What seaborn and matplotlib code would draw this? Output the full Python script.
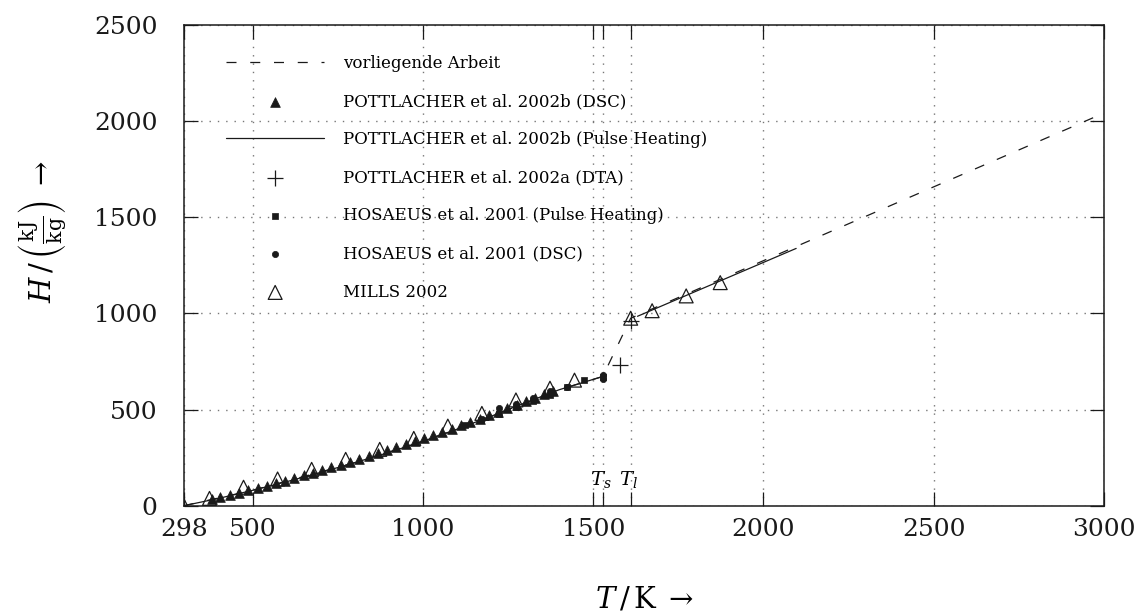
import matplotlib
matplotlib.use("Agg")
import matplotlib.pyplot as plt
import seaborn as sns
import numpy as np
import pandas as pd

# ---------------- data ----------------
T_work = [298, 500, 800, 1000, 1200, 1400, 1528, 1610, 3000]
H_work = [0, 80, 224, 335, 465, 603, 672, 975, 2042]

T_dsc = [380, 405, 432, 460, 487, 514, 541, 568, 595, 622, 650, 677, 704, 731,
         758, 786, 813, 840, 867, 894, 921, 949, 976, 1003, 1030, 1057, 1084,
         1112, 1139, 1166, 1193, 1220, 1247, 1275, 1302, 1329, 1356, 1383]
H_dsc = [34, 44, 56, 68, 81, 93, 105, 118, 131, 144, 158, 172, 185, 199,
         214, 228, 243, 258, 273, 288, 304, 320, 336, 352, 368, 384, 401,
         418, 435, 453, 470, 488, 506, 524, 543, 561, 580, 599]

T_ph_solid = [298, 400, 500, 600, 700, 800, 900, 1000, 1100, 1200, 1300, 1400, 1528]
H_ph_solid = [0, 38, 80, 125, 173, 224, 277, 335, 398, 465, 535, 603, 672]
T_ph_liquid = [1630, 2096]
H_ph_liquid = [985, 1338]

T_dta = [1579, 1610]
H_dta = [732, 958]

T_hos_ph = [1122, 1171, 1222, 1272, 1323, 1372, 1424, 1473, 1528]
H_hos_ph = [420, 446, 478, 512, 546, 577, 619, 654, 671]

T_hos_dsc = [1173, 1223, 1273, 1323, 1373, 1423, 1528, 1528]
H_hos_dsc = [452, 506, 530, 560, 595, 619, 660, 682]

T_mills = [298, 373, 473, 573, 673, 773, 873, 973, 1073, 1173, 1273, 1373,
           1445, 1610, 1673, 1773, 1873]
H_mills = [0, 38, 96, 139, 189, 241, 293, 350, 414, 480, 550, 611,
           653, 975, 1014, 1091, 1160]

T_s, T_l = 1528, 1610
x_ticks = [298, 500, 1000, 1500, T_s, T_l, 2000, 2500, 3000]
x_tick_labels = ["298", "500", "1000", "1500", "", "", "2000", "2500", "3000"]
y_ticks = [0, 500, 1000, 1500, 2000, 2500]

labels = ["vorliegende Arbeit",
          "POTTLACHER et al. 2002b (DSC)",
          "POTTLACHER et al. 2002b (Pulse Heating)",
          "POTTLACHER et al. 2002a (DTA)",
          "HOSAEUS et al. 2001 (Pulse Heating)",
          "HOSAEUS et al. 2001 (DSC)",
          "MILLS 2002"]

# ---------------- style ----------------
sns.set_theme(style="ticks")
plt.rcParams["font.family"] = ["DejaVu Serif"]
plt.rcParams["mathtext.fontset"] = "dejavuserif"
plt.rcParams["text.color"] = "black"
plt.rcParams["axes.labelcolor"] = "black"
plt.rcParams["xtick.color"] = "black"
plt.rcParams["ytick.color"] = "black"

fig = plt.figure(figsize=(11.44, 6.14), dpi=100)
ax = fig.add_axes([0.1608, 0.1764, 0.8042, 0.7829])

lw = 0.9
sns.lineplot(x=T_work, y=H_work, ax=ax, sort=False, estimator=None, color="k",
             lw=lw, linestyle=(0, (8, 11)), label=labels[0], zorder=2)
sns.scatterplot(x=T_dsc, y=H_dsc, ax=ax, marker="^", s=7**2, color="k",
                edgecolor="k", linewidth=0.5, label=labels[1], zorder=3)
sns.lineplot(x=T_ph_solid, y=H_ph_solid, ax=ax, sort=False, estimator=None,
             color="k", lw=lw, label=labels[2], zorder=2)
sns.lineplot(x=T_ph_liquid, y=H_ph_liquid, ax=ax, sort=False, estimator=None,
             color="k", lw=lw, zorder=2)
sns.scatterplot(x=T_dta, y=H_dta, ax=ax, marker="+", s=11**2, color="k",
                linewidth=0.9, label=labels[3], zorder=3)
sns.scatterplot(x=T_hos_ph, y=H_hos_ph, ax=ax, marker="s", s=5**2, color="k",
                edgecolor="k", linewidth=0.5, label=labels[4], zorder=3)
sns.scatterplot(x=T_hos_dsc, y=H_hos_dsc, ax=ax, marker="o", s=4.5**2, color="k",
                edgecolor="k", linewidth=0.5, label=labels[5], zorder=3)
sns.scatterplot(x=T_mills, y=H_mills, ax=ax, marker="^", s=10**2,
                facecolor="none", edgecolor="k", linewidth=0.9,
                label=labels[6], zorder=3)

ax.set_xlim(298, 3000)
ax.set_ylim(0, 2500)
ax.set_xticks(x_ticks)
ax.set_xticklabels(x_tick_labels)
ax.set_yticks(y_ticks)

ax.grid(True, color="#777777", linestyle=(0, (1, 5)), linewidth=1.0)
for sp in ax.spines.values():
    sp.set_visible(True)
    sp.set_color("k")
    sp.set_linewidth(1.1)

ax.tick_params(axis="both", direction="in", top=True, right=True,
               length=10, width=0.9, color="k", labelsize=18, labelcolor="k")
ax.tick_params(axis="y", pad=19)
ax.tick_params(axis="x", pad=9)

ax.text(T_s - 6, 80, r"$T_s$", fontsize=14, ha="center", va="bottom")
ax.text(T_l - 8, 80, r"$T_l$", fontsize=14, ha="center", va="bottom")

ax.set_xlabel(r"$T\,/\,\mathrm{K}\;\rightarrow$", fontsize=21)
ax.set_ylabel(r"$H\,/\,\left(\frac{\mathrm{kJ}}{\mathrm{kg}}\right)\;\rightarrow$",
              fontsize=21)
ax.xaxis.set_label_coords(0.5, -0.165)
ax.yaxis.set_label_coords(-0.125, 0.571)

leg = ax.legend(loc="upper left", bbox_to_anchor=(0.0457, 0.938),
                frameon=False, fontsize=12, handlelength=5.9,
                handletextpad=1.1, labelspacing=1.27, borderaxespad=0,
                borderpad=0, scatterpoints=1)
for t in leg.get_texts():
    t.set_color("black")

fig.savefig("out.png", dpi=100)
